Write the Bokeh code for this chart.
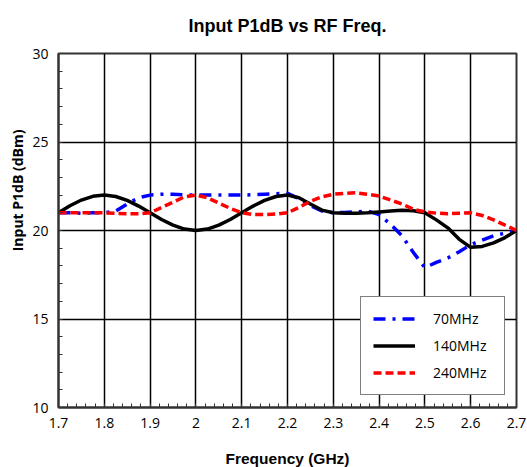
from bokeh.plotting import figure
from bokeh.models import Range1d, FixedTicker, Legend, LegendItem, Title
from bokeh.embed import file_html
from bokeh.resources import INLINE

freq = [1.700, 1.725, 1.750, 1.775, 1.800, 1.825, 1.850, 1.875, 1.900, 1.925,
        1.950, 1.975, 2.000, 2.025, 2.050, 2.075, 2.100, 2.125, 2.150, 2.175,
        2.200, 2.225, 2.250, 2.275, 2.300, 2.325, 2.350, 2.375, 2.400, 2.425,
        2.450, 2.475, 2.500, 2.525, 2.550, 2.575, 2.600, 2.625, 2.650, 2.675, 2.700]
p1db_70 = [21.0, 21.0, 20.98, 21.0, 21.0, 21.1, 21.5, 21.85, 22.0, 22.05,
           22.05, 22.02, 22.0, 22.0, 22.0, 22.0, 22.0, 22.02, 22.05, 22.08,
           22.1, 21.8, 21.4, 21.1, 21.0, 21.02, 21.05, 21.1, 20.9, 20.35,
           19.7, 18.75, 17.9, 18.2, 18.45, 18.8, 19.2, 19.45, 19.7, 19.85, 20.0]
p1db_140 = [21.0, 21.4, 21.72, 21.93, 22.0, 21.92, 21.7, 21.38, 21.0, 20.62,
            20.3, 20.08, 20.0, 20.08, 20.3, 20.62, 21.0, 21.38, 21.7, 21.92,
            22.0, 21.85, 21.5, 21.15, 21.0, 20.97, 20.98, 21.0, 21.05, 21.1,
            21.15, 21.12, 21.0, 20.6, 20.15, 19.5, 19.05, 19.1, 19.3, 19.6, 20.0]
p1db_240 = [21.0, 21.0, 21.0, 21.0, 21.0, 20.97, 20.95, 20.95, 21.0, 21.3,
            21.6, 21.9, 22.0, 21.85, 21.55, 21.25, 21.0, 20.9, 20.9, 20.93,
            21.0, 21.3, 21.65, 21.9, 22.05, 22.1, 22.13, 22.05, 21.95, 21.72,
            21.5, 21.2, 21.05, 20.98, 20.95, 20.98, 21.0, 20.85, 20.6, 20.3, 20.0]

x_ticks = [1.7, 1.8, 1.9, 2.0, 2.1, 2.2, 2.3, 2.4, 2.5, 2.6, 2.7]
x_tick_labels = ["1.7", "1.8", "1.9", "2", "2.1", "2.2", "2.3", "2.4", "2.5", "2.6", "2.7"]
y_ticks = [10, 15, 20, 25, 30]
series_names = ["70MHz", "140MHz", "240MHz"]
y_title = "Input P1dB (dBm)"

p = figure(width=527, height=467, output_backend="svg", toolbar_location=None,
           x_range=Range1d(1.7, 2.7), y_range=Range1d(10, 30),
           title="Input P1dB vs RF Freq.",
           min_border_left=58, min_border_right=11, min_border_top=52, min_border_bottom=10)
p.frame_width = 458
p.frame_height = 354

p.title.align = "center"
p.title.vertical_align = "top"
p.title.text_font = "Liberation Sans"
p.title.text_font_size = "18px"
p.title.text_font_style = "bold"
p.title.text_color = "black"
p.title.standoff = 31

p.outline_line_color = "#333333"
p.outline_line_width = 2
p.background_fill_color = "white"
p.border_fill_color = "white"

minor_x = [round(1.7 + 0.02 * i, 2) for i in range(51)]
minor_y = list(range(10, 31))
p.xaxis.ticker = FixedTicker(ticks=x_ticks, minor_ticks=minor_x)
p.yaxis.ticker = FixedTicker(ticks=y_ticks, minor_ticks=minor_y)
p.xaxis.major_label_overrides = {t: l for t, l in zip(x_ticks, x_tick_labels)}

for ax in (p.xaxis, p.yaxis):
    ax.axis_line_color = "#333333"
    ax.axis_line_width = 2
    ax.major_tick_in = 0
    ax.major_tick_out = 0
    ax.minor_tick_in = 4
    ax.minor_tick_out = 0
    ax.minor_tick_line_color = "#333333"
    ax.major_label_text_font = "Open Sans"
    ax.major_label_text_font_size = "14px"
    ax.major_label_text_color = "black"

p.xaxis.axis_label = "Frequency (GHz)"
p.xaxis.axis_label_text_font = "Liberation Sans"
p.xaxis.axis_label_text_font_size = "15.5px"
p.xaxis.axis_label_text_font_style = "bold"
p.xaxis.axis_label_text_color = "black"
p.xaxis.major_label_standoff = 10
p.yaxis.major_label_standoff = 10
p.xaxis.axis_label_standoff = 19

# y-axis title, sitting above the frame's centre as in the reference
ytitle = Title(text=y_title, align="right", offset=76, standoff=6,
               text_font="Open Sans", text_font_size="14px",
               text_font_style="bold", text_color="black")
p.add_layout(ytitle, "left")

p.xgrid.ticker = FixedTicker(ticks=x_ticks)
p.ygrid.ticker = FixedTicker(ticks=y_ticks)
p.grid.grid_line_color = "black"
p.grid.grid_line_width = 1.5
p.grid.grid_line_alpha = 1

r70 = p.line(freq, p1db_70, line_color="blue", line_width=3.5, line_dash="12 7 3 7")
r140 = p.line(freq, p1db_140, line_color="black", line_width=3.5)
r240 = p.line(freq, p1db_240, line_color="red", line_width=3.5, line_dash="8 4")

legend = Legend(items=[LegendItem(label=series_names[0], renderers=[r70]),
                       LegendItem(label=series_names[1], renderers=[r140]),
                       LegendItem(label=series_names[2], renderers=[r240])],
                location=(302, 12))
legend.border_line_color = "black"
legend.border_line_width = 1.5
legend.label_text_font = "Open Sans"
legend.label_text_font_size = "14px"
legend.label_text_color = "black"
legend.glyph_width = 42
legend.glyph_height = 19
legend.spacing = 8
legend.padding = 12
legend.margin = 0
legend.label_standoff = 18
legend.label_width = 59
legend.background_fill_alpha = 1
p.add_layout(legend, "center")

open("out.html", "w").write(file_html(p, INLINE))
